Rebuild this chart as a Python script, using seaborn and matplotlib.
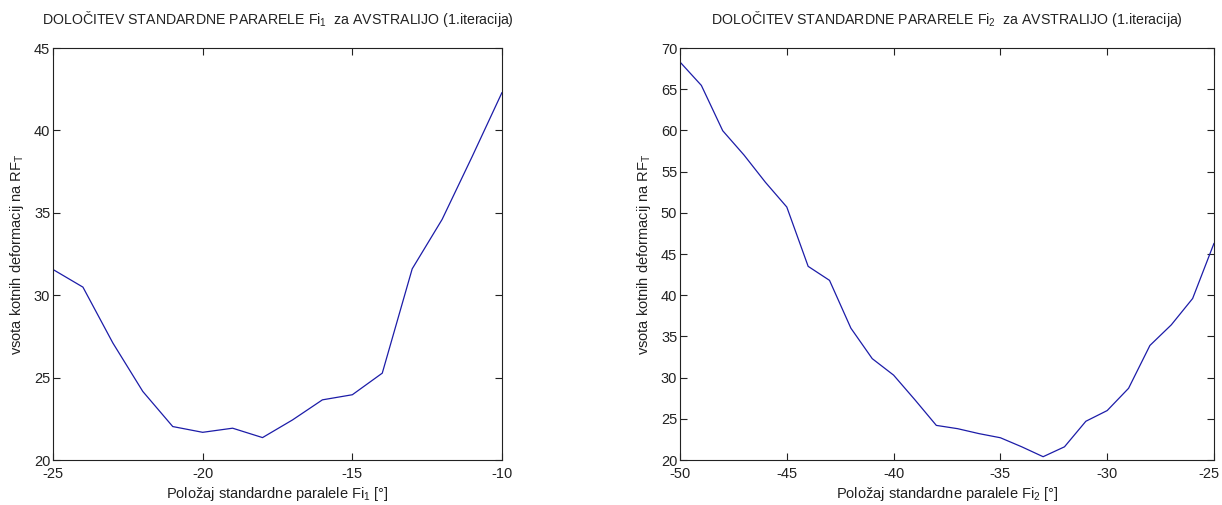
import numpy as np
import pandas as pd
import matplotlib
matplotlib.use("Agg")
import matplotlib.pyplot as plt
import matplotlib.transforms as mtransforms
import seaborn as sns

# Fi1 scan: sum of angular deformations vs. position of the standard parallel
fi1_positions = [-25, -24, -23, -22, -21, -20, -19, -18, -17, -16, -15, -14, -13, -12, -11, -10]
fi1_sums = [31.56, 30.49, 27.1, 24.16, 22.03, 21.68, 21.93, 21.36, 22.43, 23.65, 23.96, 25.27, 31.6, 34.6, 38.4, 42.3]

# Fi2 scan
fi2_positions = [-50, -49, -48, -47, -46, -45, -44, -43, -42, -41, -40, -39, -38, -37,
                 -36, -35, -34, -33, -32, -31, -30, -29, -28, -27, -26, -25]
fi2_sums = [68.3, 65.46, 59.96, 57.0, 53.7, 50.7, 43.5, 41.8, 36.0, 32.3, 30.3, 27.3, 24.2, 23.8,
            23.2, 22.7, 21.6, 20.4, 21.6, 24.7, 26.0, 28.7, 33.9, 36.4, 39.6, 46.3]

fi1_xticks = [-25, -20, -15, -10]
fi1_yticks = [20, 25, 30, 35, 40, 45]
fi2_xticks = [-50, -45, -40, -35, -30, -25]
fi2_yticks = [20, 25, 30, 35, 40, 45, 50, 55, 60, 65, 70]

sns.set_style("ticks")
plt.rcParams["font.family"] = ["Liberation Sans", "DejaVu Sans"]
plt.rcParams["mathtext.fontset"] = "custom"
plt.rcParams["mathtext.rm"] = "Liberation Sans"
plt.rcParams["mathtext.it"] = "Liberation Sans"
plt.rcParams["mathtext.default"] = "rm"
plt.rcParams["axes.unicode_minus"] = False

fig = plt.figure(figsize=(12.22, 5.05), dpi=100)
W, H = 1222, 505
ax1 = fig.add_axes([53 / W, 1 - 460 / H, (502 - 53) / W, (460 - 48) / H])
ax2 = fig.add_axes([680 / W, 1 - 460 / H, (1214 - 680) / W, (460 - 48) / H])

line_color = "#1c1ca8"
df1 = pd.DataFrame({"x": fi1_positions, "y": fi1_sums})
df2 = pd.DataFrame({"x": fi2_positions, "y": fi2_sums})
sns.lineplot(data=df1, x="x", y="y", ax=ax1, color=line_color, linewidth=0.9)
sns.lineplot(data=df2, x="x", y="y", ax=ax2, color=line_color, linewidth=0.9)

text_color = "#222222"
panels = [
    (ax1, "1", fi1_xticks, fi1_yticks),
    (ax2, "2", fi2_xticks, fi2_yticks),
]
for ax, idx, xt, yt in panels:
    ax.set_xlim(xt[0], xt[-1])
    ax.set_ylim(yt[0], yt[-1])
    ax.set_xticks(xt)
    ax.set_yticks(yt)
    ax.tick_params(direction="in", top=True, right=True, length=5, width=0.8,
                   labelsize=10.5, colors=text_color)
    ax.tick_params(axis="x", pad=5)
    ax.tick_params(axis="y", pad=2)
    for s in ax.spines.values():
        s.set_visible(True)
        s.set_linewidth(0.8)
        s.set_color(text_color)
    ax.set_title(f"DOLOČITEV STANDARDNE PARARELE Fi$_{idx}$  za AVSTRALIJO (1.iteracija)",
                 fontsize=10.2, color=text_color, pad=17)
    ax.set_xlabel(f"Položaj standardne paralele Fi$_{idx}$ [°]", fontsize=10.5,
                  color=text_color, labelpad=3)
    ax.set_ylabel("vsota kotnih deformacij na RF$_T$", fontsize=10.5,
                  color=text_color, labelpad=6)

# keep the last tick label of the right panel inside the figure edge
last = ax2.get_xticklabels()[-1]
last.set_transform(last.get_transform()
                   + mtransforms.ScaledTranslation(-5 / 100, 0, fig.dpi_scale_trans))

fig.savefig("out.png", dpi=100, facecolor="white")
